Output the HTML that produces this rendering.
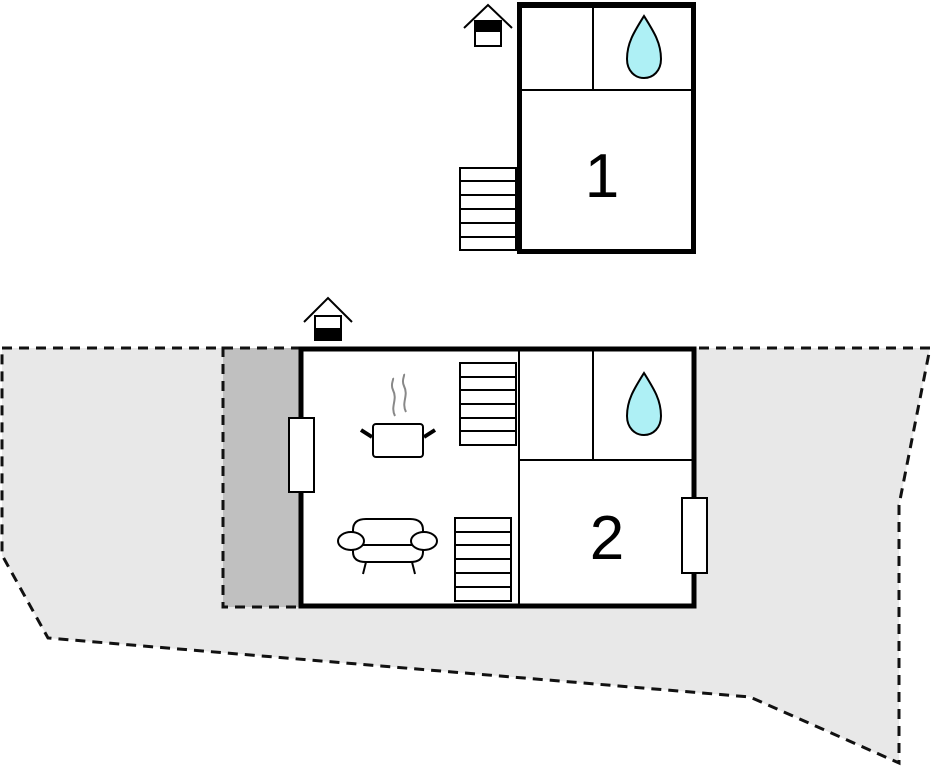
<!DOCTYPE html>
<html><head><meta charset="utf-8"><style>html,body{margin:0;padding:0;background:#fff}svg{display:block}</style></head><body>
<svg width="933" height="768" viewBox="0 0 933 768" xmlns="http://www.w3.org/2000/svg">
<!-- ground -->
<polygon points="2,348 930,348 899,505 899,763 750,697 48,638 2,555" fill="#e8e8e8" stroke="#111" stroke-width="3" stroke-dasharray="10,7"/>
<rect x="223" y="348" width="77" height="259" fill="#c0c0c0" stroke="#111" stroke-width="3" stroke-dasharray="10,7"/>
<!-- top building -->
<g fill="none" stroke="#000">
<rect x="519.5" y="4.5" width="174" height="247" fill="#fff" stroke-width="5"/>
<rect x="517" y="2" width="179" height="6" fill="#000" stroke="none"/>
<line x1="593" y1="5" x2="593" y2="90" stroke-width="2"/>
<line x1="521" y1="90" x2="692" y2="90" stroke-width="2"/>
<g stroke-width="2" fill="#fff"><rect x="460" y="168" width="56" height="82"/>
<line x1="460" y1="181" x2="516" y2="181"/><line x1="460" y1="195" x2="516" y2="195"/><line x1="460" y1="209" x2="516" y2="209"/><line x1="460" y1="223" x2="516" y2="223"/><line x1="460" y1="237" x2="516" y2="237"/></g>
<!-- house icon -->
<polyline points="464,28 488,5 512,28" stroke-width="2"/>
<rect x="475" y="21" width="26" height="25" fill="#fff" stroke-width="2"/>
<rect x="475" y="21" width="26" height="11" fill="#000" stroke="none"/>
<path d="M644,16 C634,32 627,43 627,59 C627,71 635,78 644,78 C653,78 661,71 661,59 C661,43 654,32 644,16 Z" fill="#aef0f5" stroke-width="2"/>
</g>
<text x="602" y="197" font-family="Liberation Sans, sans-serif" font-size="62" text-anchor="middle">1</text>
<!-- bottom building -->
<g fill="none" stroke="#000">
<rect x="301" y="349" width="393" height="257" fill="#fff" stroke-width="5"/>
<line x1="519" y1="350" x2="519" y2="605" stroke-width="2"/>
<line x1="519" y1="460" x2="693" y2="460" stroke-width="2"/>
<line x1="593" y1="350" x2="593" y2="460" stroke-width="2"/>
<path d="M644,373 C634,389 627,400 627,416 C627,428 635,435 644,435 C653,435 661,428 661,416 C661,400 654,389 644,373 Z" fill="#aef0f5" stroke-width="2"/>
<rect x="289" y="418" width="25" height="74" fill="#fff" stroke-width="2"/>
<rect x="682" y="498" width="25" height="75" fill="#fff" stroke-width="2"/>
<g stroke-width="2" fill="#fff"><rect x="460" y="363" width="56" height="82"/>
<line x1="460" y1="377" x2="516" y2="377"/><line x1="460" y1="390" x2="516" y2="390"/><line x1="460" y1="404" x2="516" y2="404"/><line x1="460" y1="418" x2="516" y2="418"/><line x1="460" y1="431" x2="516" y2="431"/></g>
<g stroke-width="2" fill="#fff"><rect x="455" y="518" width="56" height="83"/>
<line x1="455" y1="532" x2="511" y2="532"/><line x1="455" y1="545" x2="511" y2="545"/><line x1="455" y1="559" x2="511" y2="559"/><line x1="455" y1="573" x2="511" y2="573"/><line x1="455" y1="587" x2="511" y2="587"/></g>
<!-- house icon -->
<polyline points="304,322 328,298 352,322" stroke-width="2"/>
<rect x="315" y="316" width="26" height="24" fill="#fff" stroke-width="2"/>
<rect x="315" y="328" width="26" height="12" fill="#000" stroke="none"/>
<!-- pot -->
<rect x="373" y="424" width="50" height="33" rx="3" fill="#fff" stroke-width="2"/>
<line x1="372" y1="437" x2="361" y2="430" stroke-width="4"/>
<line x1="424" y1="437" x2="435" y2="430" stroke-width="4"/>
<path d="M395,416 C390,406 398,400 393,390 C390,384 394,380 393,378" stroke="#888" stroke-width="2"/>
<path d="M406,412 C401,402 409,396 404,386 C401,380 405,376 404,374" stroke="#888" stroke-width="2"/>
<!-- sofa -->
<path d="M353,540 L353,530 Q353,519 366,519 L410,519 Q423,519 423,530 L423,540" fill="#fff" stroke-width="2"/>
<path d="M353,545 L353,552 Q353,562 366,562 L410,562 Q423,562 423,552 L423,545 Z" fill="#fff" stroke-width="2"/>
<line x1="360" y1="545" x2="416" y2="545" stroke-width="2"/>
<ellipse cx="351" cy="541" rx="13" ry="9" fill="#fff" stroke-width="2"/>
<ellipse cx="424" cy="541" rx="13" ry="9" fill="#fff" stroke-width="2"/>
<line x1="366" y1="562" x2="363" y2="574" stroke-width="2"/>
<line x1="412" y1="562" x2="415" y2="574" stroke-width="2"/>
</g>
<text x="607" y="559" font-family="Liberation Sans, sans-serif" font-size="62" text-anchor="middle">2</text>
</svg>
</body></html>
